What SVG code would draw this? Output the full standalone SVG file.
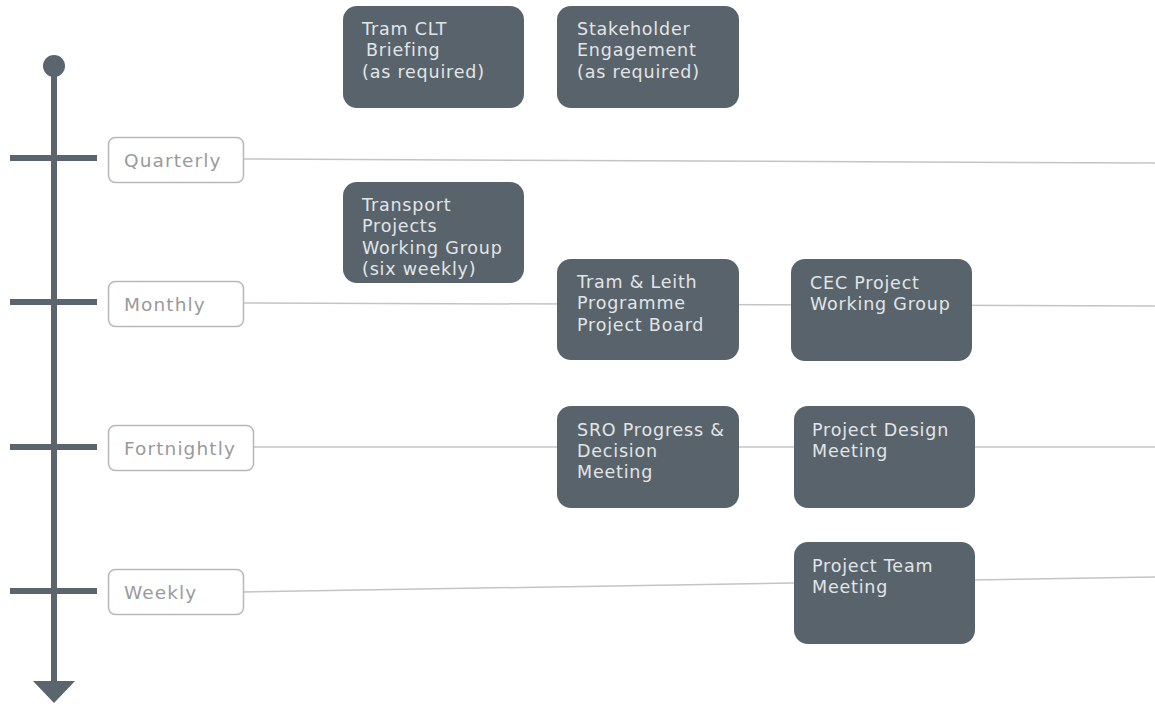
<svg xmlns="http://www.w3.org/2000/svg" width="1155" height="704" viewBox="0 0 1155 704">
  <style>
    .axis { stroke: #5a656e; stroke-width: 6; fill: none; }
    .tick { stroke: #5a656e; stroke-width: 6; }
    .link { stroke: #c4c4c4; stroke-width: 1.5; fill: none; }
    .freq rect { fill: #ffffff; stroke: #b8b8b8; stroke-width: 1.5; }
    .freq text { font-family: "DejaVu Sans", sans-serif; font-size: 18.5px; fill: #9a9a9a; letter-spacing: 1.1px; }
    .node rect { fill: #59636b; }
    .node text { font-family: "DejaVu Sans", sans-serif; font-size: 17.5px; fill: #e2e5e7; letter-spacing: 0.8px; }
  </style>

  <!-- timeline axis -->
  <g id="axis">
    <line class="axis" x1="54" y1="66" x2="54" y2="684"/>
    <circle cx="54" cy="66" r="11" fill="#5a656e"/>
    <polygon points="33,681 75,681 54,703" fill="#5a656e"/>
    <line class="tick" x1="10" y1="158" x2="97" y2="158"/>
    <line class="tick" x1="10" y1="302" x2="97" y2="302"/>
    <line class="tick" x1="10" y1="447" x2="97" y2="447"/>
    <line class="tick" x1="10" y1="591" x2="97" y2="591"/>
  </g>

  <!-- frequency rows -->
  <g id="connectors">
    <line class="link" x1="243" y1="159" x2="1155" y2="163"/>
    <line class="link" x1="243" y1="303" x2="1155" y2="306"/>
    <line class="link" x1="253" y1="447" x2="1155" y2="447"/>
    <line class="link" x1="243" y1="592" x2="1155" y2="577"/>
  </g>

  <g id="freq-quarterly" class="freq">
    <rect x="108.5" y="137.5" width="135" height="45" rx="7"/>
    <text x="124" y="167">Quarterly</text>
  </g>
  <g id="freq-monthly" class="freq">
    <rect x="108.5" y="281.5" width="135" height="45" rx="7"/>
    <text x="124" y="311">Monthly</text>
  </g>
  <g id="freq-fortnightly" class="freq">
    <rect x="108.5" y="425.5" width="145" height="45" rx="7"/>
    <text x="124" y="455">Fortnightly</text>
  </g>
  <g id="freq-weekly" class="freq">
    <rect x="108.5" y="569.5" width="135" height="45" rx="7"/>
    <text x="124" y="599">Weekly</text>
  </g>

  <!-- meetings -->
  <g id="tram-clt-briefing" class="node">
    <rect x="343" y="6" width="181" height="102" rx="14"/>
    <text x="362" y="35">Tram CLT</text>
    <text x="366" y="56">Briefing</text>
    <text x="362" y="78">(as required)</text>
  </g>
  <g id="stakeholder-engagement" class="node">
    <rect x="557" y="6" width="182" height="102" rx="14"/>
    <text x="577" y="35">Stakeholder</text>
    <text x="577" y="56">Engagement</text>
    <text x="577" y="78">(as required)</text>
  </g>
  <g id="transport-projects-wg" class="node">
    <rect x="343" y="182" width="181" height="101" rx="14"/>
    <text x="362" y="211">Transport</text>
    <text x="362" y="232">Projects</text>
    <text x="362" y="254">Working Group</text>
    <text x="362" y="275">(six weekly)</text>
  </g>
  <g id="tram-leith-board" class="node">
    <rect x="557" y="259" width="182" height="101" rx="14"/>
    <text x="577" y="288">Tram &amp; Leith</text>
    <text x="577" y="309">Programme</text>
    <text x="577" y="331">Project Board</text>
  </g>
  <g id="cec-project-wg" class="node">
    <rect x="791" y="259" width="181" height="102" rx="14"/>
    <text x="810" y="289">CEC Project</text>
    <text x="810" y="310">Working Group</text>
  </g>
  <g id="sro-progress" class="node">
    <rect x="557" y="406" width="182" height="102" rx="14"/>
    <text x="577" y="436">SRO Progress &amp;</text>
    <text x="577" y="457">Decision</text>
    <text x="577" y="478">Meeting</text>
  </g>
  <g id="project-design" class="node">
    <rect x="794" y="406" width="181" height="102" rx="14"/>
    <text x="812" y="436">Project Design</text>
    <text x="812" y="457">Meeting</text>
  </g>
  <g id="project-team" class="node">
    <rect x="794" y="542" width="181" height="102" rx="14"/>
    <text x="812" y="572">Project Team</text>
    <text x="812" y="593">Meeting</text>
  </g>
</svg>
